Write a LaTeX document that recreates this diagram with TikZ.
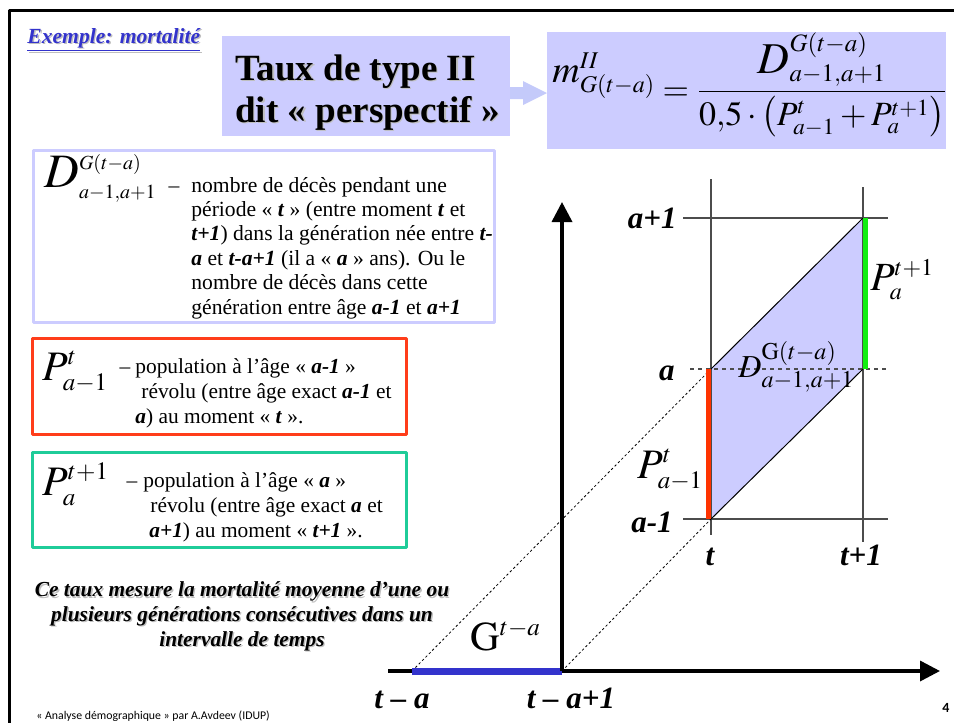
\documentclass[tikz,border=0pt]{standalone}
\usepackage{amsmath}
\usepackage{mathptmx}
\usepackage{fontspec}
\setmainfont{Liberation Serif}
\setsansfont{Carlito}
\usepackage{xcolor}
\usepackage{tikz}
\usetikzlibrary{arrows.meta,calc}
\DeclareMathSizes{24}{24}{10}{8}
\DeclareMathSizes{22}{22}{12.5}{9}
\DeclareMathSizes{21}{21}{12.5}{9}
\DeclareMathSizes{20.5}{20.5}{12.5}{9}
\DeclareMathSizes{20}{20}{12}{9}
\DeclareMathSizes{19}{19}{12}{9}
\DeclareMathSizes{17}{17}{11.5}{9}
\DeclareMathSizes{16}{16}{12}{9}
\definecolor{lav}{HTML}{CCCCFF}
\definecolor{arrcol}{HTML}{C4CAFA}
\definecolor{redbx}{HTML}{FF3D1A}
\definecolor{grnbx}{HTML}{1FCC99}
\definecolor{redseg}{HTML}{FF3300}
\definecolor{grnseg}{HTML}{11EE11}
\definecolor{genblue}{HTML}{3333CC}
\newcommand{\bi}[1]{\textbf{\textit{#1}}}
\newcommand{\shd}[1]{\makebox[0pt][l]{\hspace{0.7pt}\raisebox{-0.7pt}{\textcolor{black!25}{#1}}}#1}

\begin{document}
\begin{tikzpicture}[x=0.5pt,y=-0.5pt,line join=round,
  lbl/.style={font=\fontsize{15.5}{17}\selectfont\bfseries\itshape,inner sep=0pt},
  bodytxt/.style={align=left,inner sep=0pt,anchor=base west},
  mathlbl/.style={anchor=base west,inner sep=0pt},
  gridline/.style={black!70,line width=0.8pt},
  genline/.style={black,dash pattern=on 1.2pt off 1.2pt,line width=0.4pt},
  axis/.style={line width=1.75pt,-{Triangle[length=10pt,width=10pt]}}]
  \useasboundingbox (0,0) rectangle (954,723);
  \draw[line width=1.5pt] (9,723) -- (9,10) -- (954,10);
  \node[anchor=base west,inner sep=0pt,text=genblue,font=\fontsize{10.8}{13}\selectfont\bfseries\itshape] (exmpl) at (27,43) {\shd{\underline{Exemple: mortalité}}};
  \fill[lav] (222,36) rectangle (510,136);
  \node[bodytxt,font=\fontsize{18.5}{21}\selectfont\bfseries] (ttl) at (235,122) {\shd{Taux de type II}\\\shd{dit « perspectif »}};
  \fill[arrcol] (510,87) -- (523,87) -- (523,81) -- (547,93) -- (523,105) -- (523,99) -- (510,99) -- cycle;
  \fill[lav] (547,32) rectangle (946,149);
  \node[mathlbl,font=\fontsize{17}{20}\selectfont] (mform) at (552,100) {\raisebox{9pt}{\fontsize{19}{21}\selectfont$m^{II}_{G(t-a)}$}$\;=\dfrac{\mbox{\fontsize{22}{24}\selectfont$D^{G(t-a)}_{a-1,a+1}$}}{0{,}5\cdot\bigl(P^{t}_{a-1}+P^{t+1}_{a}\bigr)}$};
  \draw[lav,line width=1.5pt] (33,150) rectangle (494,322);
  \draw[redbx,line width=1.5pt] (32,338) rectangle (406,434);
  \draw[grnbx,line width=1.5pt] (32,452) rectangle (406,547);
  \node[mathlbl,font=\fontsize{24}{26}\selectfont] (dbox) at (44,187) {$D^{G(t-a)}_{a-1,a+1}$};
  \node[bodytxt,font=\fontsize{10.8}{12.2}\selectfont] (dtxt) at (191,314) {\llap{–\hspace{6pt}}nombre de décès pendant une\\période « \bi{t} » (entre moment \bi{t} et\\\bi{t+1}) dans la génération née entre \bi{t-}\\\bi{a} et \bi{t-a+1} (il a « \bi{a} » ans). Ou le\\nombre de décès dans cette\\génération entre âge \bi{a-1} et \bi{a+1}};
  \node[mathlbl,font=\fontsize{21}{23}\selectfont] (pbox1) at (42,380) {$P^{t}_{a-1}$};
  \node[bodytxt,font=\fontsize{10.7}{12.5}\selectfont] (ptxt1) at (135,423) {\llap{–\hspace{2.5pt}}population à l’âge « \bi{a-1} »\\\hspace{3pt}révolu (entre âge exact \bi{a-1} et\\\bi{a}) au moment « \bi{t} ».};
  \node[mathlbl,font=\fontsize{21}{23}\selectfont] (pbox2) at (42,495) {$P^{t+1}_{a}$};
  \node[bodytxt,font=\fontsize{10.7}{12.5}\selectfont] (ptxt2) at (143,537) {\llap{–\hspace{3pt}}population à l’âge « \bi{a} »\\\hspace{3.5pt}révolu (entre âge exact \bi{a} et\\\hspace{3pt}\bi{a+1}) au moment « \bi{t+1} ».};
  \node[align=center,anchor=base,inner sep=0pt,font=\fontsize{10.7}{12.3}\selectfont\bfseries\itshape] (note) at (242,646) {\shd{Ce taux mesure la mortalité moyenne d’une ou}\\\shd{plusieurs générations consécutives dans un}\\\shd{intervalle de temps}};
  \node[anchor=base west,inner sep=0pt,font=\sffamily\fontsize{5.9}{7}\selectfont] (foot) at (36,719) {« Analyse démographique » par A.Avdeev (IDUP)};
  \node[anchor=base,inner sep=0pt,font=\sffamily\bfseries\fontsize{7}{8}\selectfont] (pgno) at (946,712) {4};
  \coordinate (O) at (562,671);
  \coordinate (Ytop) at (562,202);
  \coordinate (Xbeg) at (388,671);
  \coordinate (Xend) at (940,671);
  \coordinate (G0) at (412,671);
  \coordinate (Ta) at (711,369);
  \coordinate (Tam) at (711,519);
  \coordinate (Uaa) at (863,218);
  \coordinate (Ua) at (863,369);
  \fill[lav] (Tam) -- (Ta) -- (Uaa) -- (Ua) -- cycle;
  \draw[gridline] (711,179) -- (711,535);
  \draw[gridline] (863,187) -- (863,542);
  \draw[gridline] (683,218) -- (888,218);
  \draw[gridline] (683,519) -- (888,519);
  \draw[black!70,line width=0.6pt,dash pattern=on 2pt off 2pt] (690,369) -- (888,369);
  \draw[genline] (G0) -- (Ta);
  \draw[genline] (O) -- (Tam);
  \draw[line width=0.5pt] (Ta) -- (Uaa);
  \draw[line width=0.5pt] (Tam) -- (Ua);
  \draw[redseg,line width=2.5pt] ($(Ta)+(-2.5,0)$) -- ($(Tam)+(-2.5,0)$);
  \draw[grnseg,line width=2.5pt] ($(Uaa)+(2.5,0)$) -- ($(Ua)+(2.5,0)$);
  \draw[axis] (Xbeg) -- (Xend);
  \draw[genblue,line width=3.5pt] (G0) -- (O);
  \draw[axis] (O) -- (Ytop);
  \node[lbl,anchor=base east] (la1) at (677,228) {a+1};
  \node[lbl,anchor=base east] (la) at (675,380) {a};
  \node[lbl,anchor=base east] (lam1) at (673,532) {a-1};
  \node[lbl,anchor=base] (lt) at (710,565) {t};
  \node[lbl,anchor=base] (lt1) at (861,565) {t+1};
  \node[lbl,anchor=base] (lta) at (402,708) {t – a};
  \node[lbl,anchor=base] (lta1) at (571,708) {t – a+1};
  \node[mathlbl,font=\fontsize{20}{22}\selectfont] (pnext) at (870,290) {$P^{t+1}_{a}$};
  \node[mathlbl,font=\fontsize{16}{18}\selectfont] (dlbl) at (738,377) {$D^{\mathrm{G}(t-a)}_{a-1,a+1}$};
  \node[mathlbl,font=\fontsize{21}{23}\selectfont] (pcur) at (637,478) {$P^{t}_{a-1}$};
  \node[mathlbl,font=\fontsize{20.5}{22}\selectfont] (glbl) at (470,650) {$\mathrm{G}^{t-a}$};
\end{tikzpicture}
\end{document}
